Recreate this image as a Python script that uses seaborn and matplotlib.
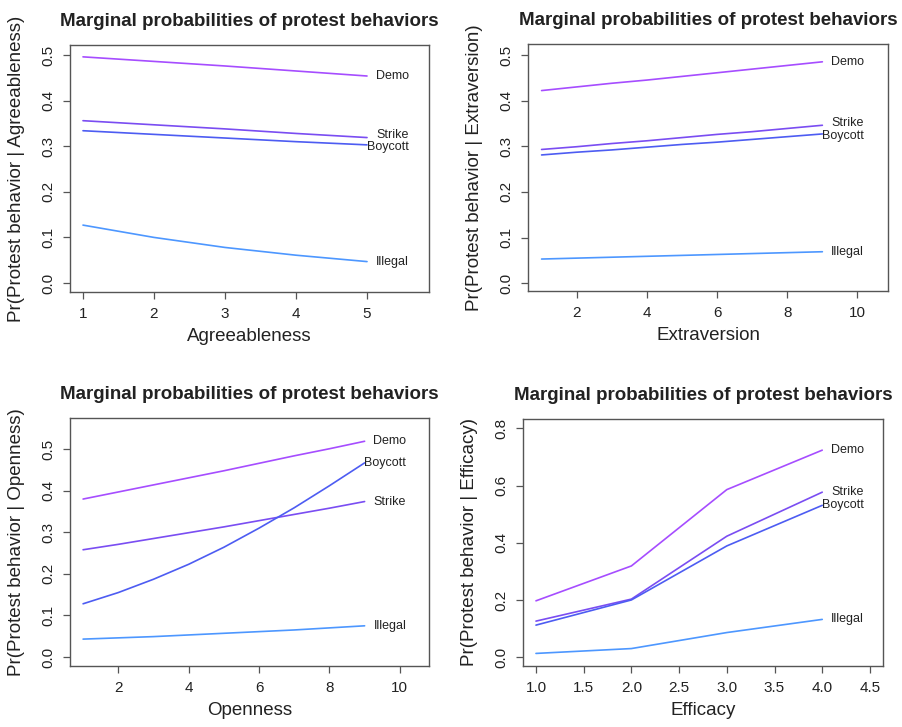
import matplotlib
matplotlib.use("Agg")
import matplotlib.pyplot as plt
import seaborn as sns
import pandas as pd

# ---------------- data ----------------
behaviors = ["Demo", "Strike", "Boycott", "Illegal"]
colors = ["#A64DFF", "#7A4DF2", "#4D5CF2", "#4D97FF"]

agree_x = [1, 2, 3, 4, 5]
agree_demo = [0.496, 0.486, 0.476, 0.465, 0.454]
agree_strike = [0.356, 0.347, 0.338, 0.328, 0.319]
agree_boycott = [0.334, 0.326, 0.318, 0.310, 0.303]
agree_illegal = [0.127, 0.100, 0.078, 0.061, 0.047]

extra_x = [1, 2, 3, 4, 5, 6, 7, 8, 9]
extra_demo = [0.422, 0.430, 0.438, 0.445, 0.453, 0.461, 0.469, 0.477, 0.485]
extra_strike = [0.293, 0.299, 0.306, 0.312, 0.319, 0.326, 0.332, 0.339, 0.346]
extra_boycott = [0.281, 0.287, 0.292, 0.298, 0.304, 0.309, 0.315, 0.321, 0.327]
extra_illegal = [0.053, 0.055, 0.057, 0.059, 0.061, 0.063, 0.065, 0.067, 0.069]

open_x = [1, 2, 3, 4, 5, 6, 7, 8, 9]
open_demo = [0.380, 0.397, 0.414, 0.431, 0.448, 0.466, 0.484, 0.501, 0.519]
open_strike = [0.258, 0.271, 0.285, 0.299, 0.313, 0.328, 0.343, 0.358, 0.374]
open_boycott = [0.128, 0.155, 0.187, 0.223, 0.264, 0.310, 0.359, 0.412, 0.467]
open_illegal = [0.043, 0.046, 0.049, 0.053, 0.057, 0.061, 0.065, 0.070, 0.075]

eff_x = [1, 2, 3, 4]
eff_demo = [0.197, 0.319, 0.586, 0.724]
eff_strike = [0.126, 0.203, 0.423, 0.577]
eff_boycott = [0.112, 0.200, 0.389, 0.531]
eff_illegal = [0.013, 0.030, 0.086, 0.132]

title = "Marginal probabilities of protest behaviors"

panels = [
    dict(x=agree_x, ys=[agree_demo, agree_strike, agree_boycott, agree_illegal],
         xlabel="Agreeableness", ylabel="Pr(Protest behavior | Agreeableness)",
         xticks=[1, 2, 3, 4, 5], xfmt="{:.0f}", xlim=(0.817, 5.873),
         yticks=[0.0, 0.1, 0.2, 0.3, 0.4, 0.5], ylim=(-0.0197, 0.522),
         box=(70, 429, 45, 292), nudge=True),
    dict(x=extra_x, ys=[extra_demo, extra_strike, extra_boycott, extra_illegal],
         xlabel="Extraversion", ylabel="Pr(Protest behavior | Extraversion)",
         xticks=[2, 4, 6, 8, 10], xfmt="{:.0f}", xlim=(0.613, 10.87),
         yticks=[0.0, 0.1, 0.2, 0.3, 0.4, 0.5], ylim=(-0.017, 0.524),
         box=(528, 888, 44, 291), nudge=True),
    dict(x=open_x, ys=[open_demo, open_strike, open_boycott, open_illegal],
         xlabel="Openness", ylabel="Pr(Protest behavior | Openness)",
         xticks=[2, 4, 6, 8, 10], xfmt="{:.0f}", xlim=(0.628, 10.83),
         yticks=[0.0, 0.1, 0.2, 0.3, 0.4, 0.5], ylim=(-0.0217, 0.575),
         box=(70, 429, 418, 666), nudge=False),
    dict(x=eff_x, ys=[eff_demo, eff_strike, eff_boycott, eff_illegal],
         xlabel="Efficacy", ylabel="Pr(Protest behavior | Efficacy)",
         xticks=[1.0, 1.5, 2.0, 2.5, 3.0, 3.5, 4.0, 4.5], xfmt="{:.1f}", xlim=(0.864, 4.637),
         yticks=[0.0, 0.2, 0.4, 0.6, 0.8], ylim=(-0.031, 0.833),
         box=(523, 883, 419, 666), nudge=False),
]

# ---------------- style ----------------
sns.set_theme(style="ticks")
plt.rcParams["font.family"] = ["Liberation Sans", "DejaVu Sans"]
edge = "#555555"
txt = "#222222"

W, H = 902, 727
fig = plt.figure(figsize=(W / 100, H / 100), dpi=100)
palette = dict(zip(behaviors, colors))

for p in panels:
    l, r, t, b = p["box"]
    ax = fig.add_axes([l / W, (H - b) / H, (r - l) / W, (b - t) / H])
    rows = []
    for name, yv in zip(behaviors, p["ys"]):
        for xv, v in zip(p["x"], yv):
            rows.append({"x": xv, "y": v, "behavior": name})
    df = pd.DataFrame(rows)
    sns.lineplot(data=df, x="x", y="y", hue="behavior", palette=palette,
                 legend=False, ax=ax, linewidth=1.2, estimator=None, sort=True)
    # end labels
    for name, yv in zip(behaviors, p["ys"]):
        dy = 0
        if p["nudge"]:
            dy = 1.5 if name == "Strike" else (-1.5 if name == "Boycott" else 0)
        ax.annotate(name, xy=(p["x"][-1], yv[-1]), xytext=(30, dy),
                    textcoords="offset points", ha="right", va="center",
                    fontsize=9, color=txt)
    ax.set_xlim(*p["xlim"])
    ax.set_ylim(*p["ylim"])
    ax.set_xticks(p["xticks"])
    ax.set_xticklabels([p["xfmt"].format(v) for v in p["xticks"]])
    ax.set_yticks(p["yticks"])
    ax.set_yticklabels(["{:.1f}".format(v) for v in p["yticks"]],
                       rotation=90, va="center")
    ax.tick_params(axis="both", direction="out", length=5, width=0.9,
                   color=edge, labelsize=11, labelcolor=txt, pad=5.5)
    for s in ax.spines.values():
        s.set_visible(True)
        s.set_color(edge)
        s.set_linewidth(1.0)
    ax.set_xlabel(p["xlabel"], fontsize=13.5, color=txt, labelpad=5)
    ax.set_ylabel(p["ylabel"], fontsize=13.5, color=txt, labelpad=12)
    ax.set_title(title, fontsize=13.5, fontweight="bold", color=txt, pad=14)
    ax.set_facecolor("white")

fig.savefig("out.png", dpi=100, facecolor="white")
